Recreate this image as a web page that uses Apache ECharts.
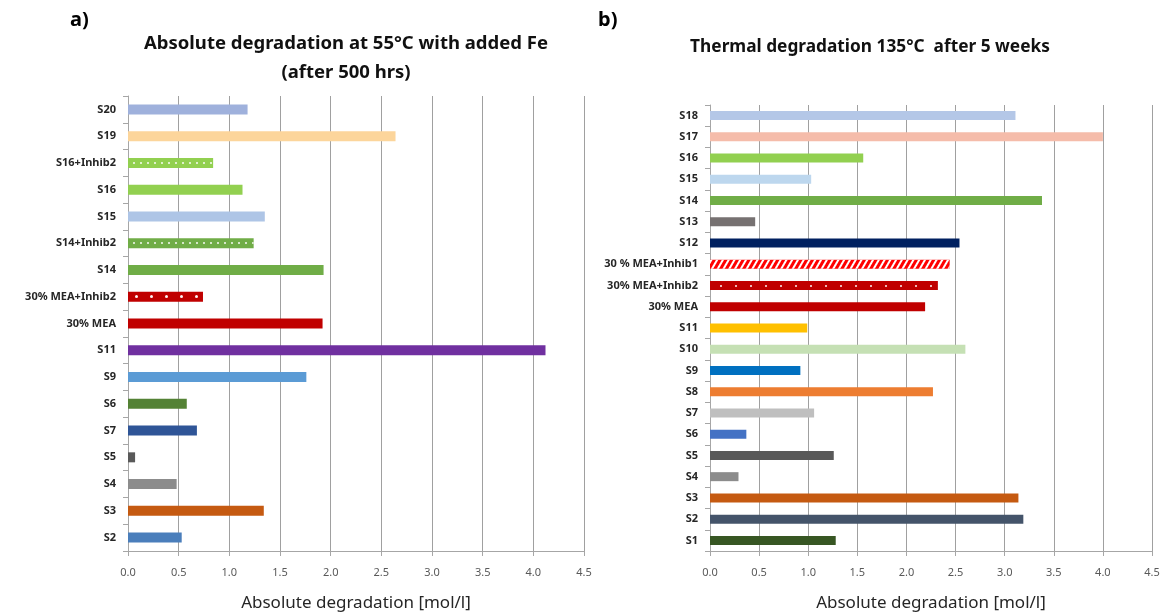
<!DOCTYPE html>
<html>
<head>
<meta charset="utf-8">
<script src="https://cdn.jsdelivr.net/npm/echarts@6/dist/echarts.min.js"></script>
<style>
html,body{margin:0;padding:0;background:#fff;}
#chart{width:1162px;height:614px;}
</style>
</head>
<body>
<div id="chart"></div>
<script>
// a) absolute degradation at 55°C with added Fe (top to bottom)
var leftCategories = ['S20', 'S19', 'S16+Inhib2', 'S16', 'S15', 'S14+Inhib2', 'S14', '30% MEA+Inhib2', '30% MEA', 'S11', 'S9', 'S6', 'S7', 'S5', 'S4', 'S3', 'S2'];
var leftValues = [1.18, 2.64, 0.84, 1.13, 1.35, 1.24, 1.93, 0.74, 1.92, 4.12, 1.76, 0.58, 0.68, 0.07, 0.48, 1.34, 0.53];
var leftColors = ['#9fb1dc', '#fcd59b', '#92d050', '#92d050', '#aec5e6', '#70ad47', '#70ad47', '#c00000', '#c00000', '#7030a0', '#5b9bd5', '#548235', '#2f5597', '#595959', '#8c8c8c', '#c55a11', '#4a7ebb'];
var leftPattern = ['', '', 'dots', '', '', 'dots', '', 'bigdots', '', '', '', '', '', '', '', '', ''];

// b) thermal degradation 135°C after 5 weeks (top to bottom)
var rightCategories = ['S18', 'S17', 'S16', 'S15', 'S14', 'S13', 'S12', '30 % MEA+Inhib1', '30% MEA+Inhib2', '30% MEA', 'S11', 'S10', 'S9', 'S8', 'S7', 'S6', 'S5', 'S4', 'S3', 'S2', 'S1'];
var rightValues = [3.11, 4.0, 1.56, 1.03, 3.38, 0.46, 2.54, 2.44, 2.32, 2.19, 0.99, 2.6, 0.92, 2.27, 1.06, 0.37, 1.26, 0.29, 3.14, 3.19, 1.28];
var rightColors = ['#b4c7e7', '#f5bcaa', '#92d050', '#bdd7ee', '#70ad47', '#767171', '#002060', '#ff0000', '#c00000', '#c00000', '#ffc000', '#c5e0b4', '#0070c0', '#ed7d31', '#bfbfbf', '#4472c4', '#595959', '#8c8c8c', '#c55a11', '#44546a', '#375623'];
var rightPattern = ['', '', '', '', '', '', '', 'stripes', 'dots', '', '', '', '', '', '', '', '', '', '', '', ''];

var xTicks = ['0.0', '0.5', '1.0', '1.5', '2.0', '2.5', '3.0', '3.5', '4.0', '4.5'];

var FONT = "'Noto Sans', sans-serif";

var GRID_L = {left:128, top:96, width:456, height:455, outerBoundsMode:'none'};
var GRID_R = {left:710, top:105, width:442, height:446, outerBoundsMode:'none'};

// decal tiles are anchored at the canvas origin, so pick a row period that
// puts one row of dots through the middle of the bar
function decalFor(kind, grid, idx, count){
  if(!kind) return null;
  var band = grid.height / count;
  var center = grid.top + band * (idx + 0.5);
  if(kind == 'stripes'){
    return {symbol:'rect', symbolSize:1, color:'#ffffff', dashArrayX:[1,0], dashArrayY:[2,3], rotation:-Math.PI/3};
  }
  var dot = kind == 'bigdots' ? 3 : 2;
  var gapX = kind == 'bigdots' ? 12 : (grid === GRID_L ? 5 : 13);
  var rowStart = Math.round(center - dot / 2);
  var period = rowStart;
  for(var p = 20; p < 90; p++){
    if(rowStart % p == 0){ period = p; break; }
  }
  return {symbol:'circle', symbolSize:1, color:'rgba(255,255,255,0.95)', dashArrayX:[dot, gapX], dashArrayY:[dot, period - dot], rotation:0};
}

function buildData(values, colors, patterns, grid){
  return values.map(function(v, i){
    var style = {color: colors[i]};
    var d = decalFor(patterns[i], grid, i, values.length);
    if(d) style.decal = d;
    return {value: v, itemStyle: style};
  });
}

function xAxisFor(gridIndex){
  return {
    type:'value', gridIndex:gridIndex, min:0, max:4.5, interval:0.5,
    axisLine:{show:true, lineStyle:{color:'#a6a6a6'}},
    axisTick:{show:true, length:5, lineStyle:{color:'#a6a6a6'}},
    splitLine:{show:true, lineStyle:{color:'#a0a0a0', width:1}},
    axisLabel:{color:'#595959', fontSize:11, fontFamily:FONT, margin:16,
      formatter:function(v){ return xTicks[Math.round(v*2)]; }},
    name:'Absolute degradation [mol/l]', nameLocation:'middle', nameGap:44,
    nameTextStyle:{color:'#262626', fontSize:17, fontFamily:FONT}
  };
}

function yAxisFor(gridIndex, cats){
  return {
    type:'category', gridIndex:gridIndex, data:cats, inverse:true,
    axisLine:{show:true, lineStyle:{color:'#a6a6a6'}},
    axisTick:{show:true, length:5, lineStyle:{color:'#a6a6a6'}},
    splitLine:{show:false},
    axisLabel:{color:'#262626', fontSize:11, fontWeight:'bold', fontFamily:FONT, margin:12, interval:0}
  };
}

var chart = echarts.init(document.getElementById('chart'), null, {renderer:'canvas'});
var option = {
  animation:false,
  backgroundColor:'#fff',
  grid:[GRID_L, GRID_R],
  xAxis:[xAxisFor(0), xAxisFor(1)],
  yAxis:[yAxisFor(0, leftCategories), yAxisFor(1, rightCategories)],
  series:[
    {type:'bar', xAxisIndex:0, yAxisIndex:0, barWidth:10, data:buildData(leftValues, leftColors, leftPattern, GRID_L)},
    {type:'bar', xAxisIndex:1, yAxisIndex:1, barWidth:9, data:buildData(rightValues, rightColors, rightPattern, GRID_R)}
  ],
  graphic:[
    {type:'text', x:70, y:10, style:{text:'a)', font:"bold 20px " + FONT, fill:'#000'}},
    {type:'text', x:598, y:10, style:{text:'b)', font:"bold 20px " + FONT, fill:'#000'}},
    {type:'text', x:346, y:44, style:{text:'Absolute degradation at 55°C with added Fe', font:"bold 18.5px " + FONT, fill:'#111', align:'center', verticalAlign:'middle'}},
    {type:'text', x:346, y:73, style:{text:'(after 500 hrs)', font:"bold 18.5px " + FONT, fill:'#111', align:'center', verticalAlign:'middle'}},
    {type:'text', x:870, y:47, style:{text:'Thermal degradation 135°C  after 5 weeks', font:"bold 17.3px " + FONT, fill:'#111', align:'center', verticalAlign:'middle'}}
  ]
};
chart.setOption(option);
</script>
</body>
</html>
